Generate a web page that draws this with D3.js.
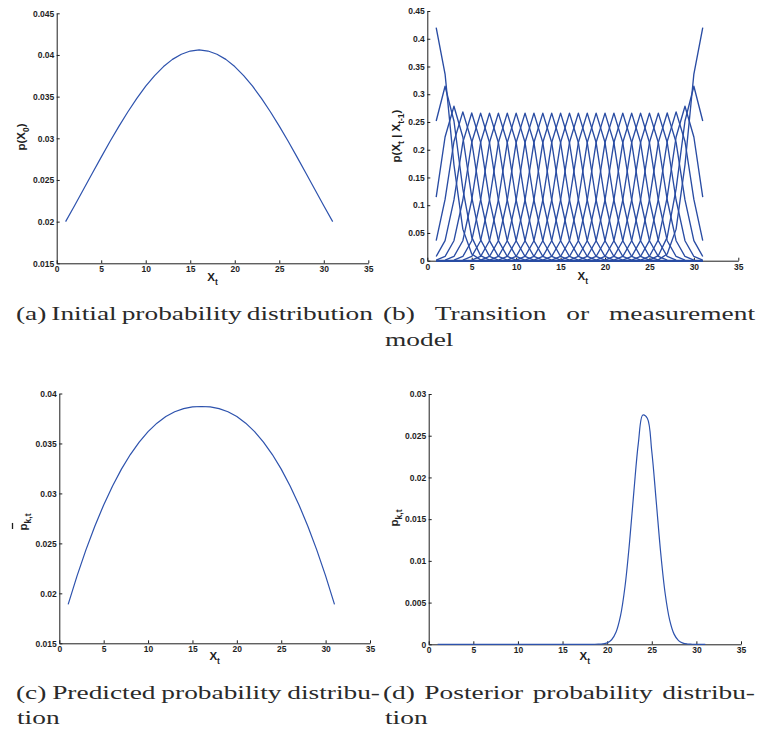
<!DOCTYPE html>
<html><head><meta charset="utf-8">
<script src="https://cdn.jsdelivr.net/npm/d3@7"></script>
<style>body{margin:0;background:#fff}svg{display:block}</style>
</head><body>
<svg id="chart" width="760" height="736"></svg>
<script>
// ---------------- data ----------------
const xt = [1,2,3,4,5,6,7,8,9,10,11,12,13,14,15,16,17,18,19,20,21,22,23,24,25,26,27,28,29,30,31];

const xTicks = [0,5,10,15,20,25,30,35];
const xTickLabels = ["0","5","10","15","20","25","30","35"];

const yTicksA = [0.015,0.02,0.025,0.03,0.035,0.04,0.045];
const yTickLabelsA = ["0.015","0.02","0.025","0.03","0.035","0.04","0.045"];
const yTicksB = [0,0.05,0.1,0.15,0.2,0.25,0.3,0.35,0.4,0.45];
const yTickLabelsB = ["0","0.05","0.1","0.15","0.2","0.25","0.3","0.35","0.4","0.45"];
const yTicksC = [0.015,0.02,0.025,0.03,0.035,0.04];
const yTickLabelsC = ["0.015","0.02","0.025","0.03","0.035","0.04"];
const yTicksD = [0,0.005,0.01,0.015,0.02,0.025,0.03];
const yTickLabelsD = ["0","0.005","0.01","0.015","0.02","0.025","0.03"];

// (a) initial probability distribution p(X_0)
const initialProb = [0.02000,0.02191,0.02385,0.02581,0.02774,0.02964,0.03146,0.03319,0.03480,0.03625,
  0.03753,0.03861,0.03947,0.04009,0.04047,0.04060,0.04047,0.04009,0.03947,0.03861,0.03753,
  0.03625,0.03480,0.03319,0.03146,0.02964,0.02774,0.02581,0.02385,0.02191,0.02000];

// (b) transition kernel: value at offset |x_t - x_{t-1}| = 0,1,2,... (renormalised at the edges)
const transKernel = [0.266,0.213,0.1094,0.036,0.0076,0.001,0.0001];

// (c) predicted probability distribution
const predictedProb = [0.0189,0.02175,0.02435,0.02672,0.02885,0.03075,0.03243,0.03389,0.03514,0.03618,
  0.03703,0.03769,0.03817,0.03849,0.03866,0.0387,0.03866,0.03849,0.03817,0.03769,0.03703,
  0.03618,0.03514,0.03389,0.03243,0.03075,0.02885,0.02672,0.02435,0.02175,0.0189];

// (d) posterior probability distribution
const posteriorX = [1,2,3,4,5,6,7,8,9,10,11,12,13,14,15,16,17,18,18.5,19,19.5,20,20.5,21,21.5,22,22.5,23,23.5,
  24,24.5,25,25.5,26,26.5,27,27.5,28,28.5,29,29.5,30,30.5,31];
const posteriorP = [0,0,0,0,0,0,0,0,0,0,0,0,0,0,0,0,0,0.0000004,0.000003,0.0000119,0.0000491,0.000176,0.000547,
  0.001473,0.00343,0.00693,0.01213,0.01839,0.02415,0.02748,0.02709,0.02314,0.01712,0.01097,0.00609,
  0.00293,0.00122,0.000441,0.000138,0.0000374,0.0000085,0.0000015,0,0];

// ---------------- drawing ----------------
const svg = d3.select("#chart");
const SANS = "'Liberation Sans', Arial, Helvetica, sans-serif";
const SERIF = "'Liberation Serif', 'Times New Roman', serif";
const LINE = "#2d52ad";
const INK = "#1e1e1e";

function panel(p) {
  const x = d3.scaleLinear().domain([0,35]).range([p.x0,p.x1]);
  const y = d3.scaleLinear().domain(p.ydom).range([p.y0,p.y1]);
  const g = svg.append("g");
  const ax = g.append("g").attr("transform",`translate(0,${p.y0})`)
    .call(d3.axisBottom(x).tickValues(xTicks).tickFormat((d,i)=>xTickLabels[i])
      .tickSizeInner(-3).tickSizeOuter(0).tickPadding(3));
  const ay = g.append("g").attr("transform",`translate(${p.x0},0)`)
    .call(d3.axisLeft(y).tickValues(p.yTicks).tickFormat((d,i)=>p.yLabels[i])
      .tickSizeInner(-3).tickSizeOuter(0).tickPadding(2.5));
  [ax,ay].forEach(a=>{
    a.selectAll("path").attr("stroke",INK).attr("stroke-width",1);
    a.selectAll("line").attr("stroke",INK).attr("stroke-width",1);
    a.selectAll("text").attr("fill",INK).attr("font-family",SANS).attr("font-weight","bold").attr("font-size",8.5);
  });
  // x label
  const xl = g.append("text").attr("x",(p.x0+p.x1)/2).attr("y",p.xlabY)
    .attr("text-anchor","middle").attr("font-family",SANS).attr("font-weight","bold")
    .attr("font-size",11.5).attr("fill",INK);
  xl.append("tspan").text("X");
  xl.append("tspan").attr("dy",3.5).attr("font-size",8.5).text("t");
  return {g,x,y};
}

function yLabel(g, bx, cy, parts) {
  const gg = g.append("g").attr("transform",`translate(${bx},${cy}) rotate(-90)`);
  const t = gg.append("text").attr("x",0).attr("y",0).attr("text-anchor","middle")
    .attr("font-family",SANS).attr("font-weight","bold").attr("font-size",11.5).attr("fill",INK);
  let shift = 0;
  parts.forEach(pt=>{
    const s = t.append("tspan").text(pt.t);
    if (pt.sub) { s.attr("font-size",8.5).attr("dy",3.5-shift); shift = 3.5; }
    else { if (shift) s.attr("dy",-shift); shift = 0; }
  });
  return {gg,t};
}

function drawLine(P, xs, ys, opts={}) {
  const line = d3.line().x((d)=>P.x(d[0])).y(d=>P.y(d[1]));
  if (opts.curve) line.curve(opts.curve);
  P.g.append("path").datum(xs.map((v,i)=>[v,ys[i]]))
    .attr("d",line).attr("fill","none").attr("stroke",opts.color||LINE)
    .attr("stroke-width",opts.w||1.2).attr("stroke-linejoin","round");
}

// Panel (a)
const A = panel({x0:56.7,x1:368.3,y0:263.3,y1:13.3,ydom:[0.015,0.045],yTicks:yTicksA,yLabels:yTickLabelsA,xlabY:281});
drawLine(A, xt, initialProb);
yLabel(A.g, 25, 137, [{t:"p(X"},{t:"0",sub:true},{t:")"}]);

// Panel (b)
const B = panel({x0:427.3,x1:738.3,y0:260.7,y1:11,ydom:[0,0.45],yTicks:yTicksB,yLabels:yTickLabelsB,xlabY:280});
xt.forEach(j=>{
  const raw = xt.map(i=>{ const k = Math.abs(i-j); return k < transKernel.length ? transKernel[k] : 0; });
  const s = d3.sum(raw);
  drawLine(B, xt, raw.map(v=>v/s), {color:"#294ca3", w:1.35});
});
yLabel(B.g, 400, 136, [{t:"p(X"},{t:"t",sub:true},{t:" | X"},{t:"t-1",sub:true},{t:")"}]);

// Panel (c)
const C = panel({x0:59.3,x1:370,y0:643.3,y1:393.5,ydom:[0.015,0.04],yTicks:yTicksC,yLabels:yTickLabelsC,xlabY:660});
drawLine(C, xt, predictedProb);
{
  const lab = yLabel(C.g, 27, 522, [{t:"p"},{t:"k,t",sub:true}]);
  const node = lab.t.node();
  const L = node.getComputedTextLength();
  const pw = node.getSubStringLength(0,1);
  const x0 = -L/2;
  lab.gg.append("line").attr("x1",x0+1.5).attr("x2",x0+pw+0.5).attr("y1",-14.5).attr("y2",-14.5)
    .attr("stroke",INK).attr("stroke-width",1.3);
}

// Panel (d)
const D = panel({x0:428.7,x1:741,y0:644.3,y1:394,ydom:[0,0.03],yTicks:yTicksD,yLabels:yTickLabelsD,xlabY:660});
drawLine(D, posteriorX, posteriorP, {curve:d3.curveCatmullRom});
yLabel(D.g, 398, 518, [{t:"p"},{t:"k,t",sub:true}]);

// ---------------- captions ----------------
const capG = svg.append("g").attr("font-family",SERIF).attr("font-size",18).attr("fill","#2a2a2a");
function measure(word){
  const t = capG.append("text").text(word);
  const w = t.node().getComputedTextLength(); t.remove(); return w;
}
// horizontal stretch derived from caption (a) natural layout
const capA = ["(a)","Initial","probability","distribution"];
const spaceW = measure("a a") - measure("aa");
const natA = d3.sum(capA.map(measure)) + spaceW*(capA.length-1);
const sx = (373-16 - spaceW*1.1*(capA.length-1)) / (natA - spaceW*(capA.length-1));

function justify(words, x0, x1, y){
  const ws = words.map(w=>measure(w)*sx);
  const gap = words.length>1 ? (x1-x0-d3.sum(ws))/(words.length-1) : 0;
  let cx = x0;
  words.forEach((w,i)=>{
    capG.append("text").attr("x",cx).attr("y",y).attr("textLength",ws[i])
      .attr("lengthAdjust","spacingAndGlyphs").text(w);
    cx += ws[i] + gap;
  });
}
function plain(word, x, y){
  capG.append("text").attr("x",x).attr("y",y).attr("textLength",measure(word)*sx)
    .attr("lengthAdjust","spacingAndGlyphs").text(word);
}
justify(capA, 16, 373, 320);
justify(["(b)","Transition","or","measurement"], 383, 755, 320);
plain("model", 385, 346);
justify(["(c)","Predicted","probability","distribu-"], 16, 380, 699);
justify(["(d)","Posterior","probability","distribu-"], 383, 755, 699);
plain("tion", 17, 724);
plain("tion", 385, 724);
</script>
</body></html>
